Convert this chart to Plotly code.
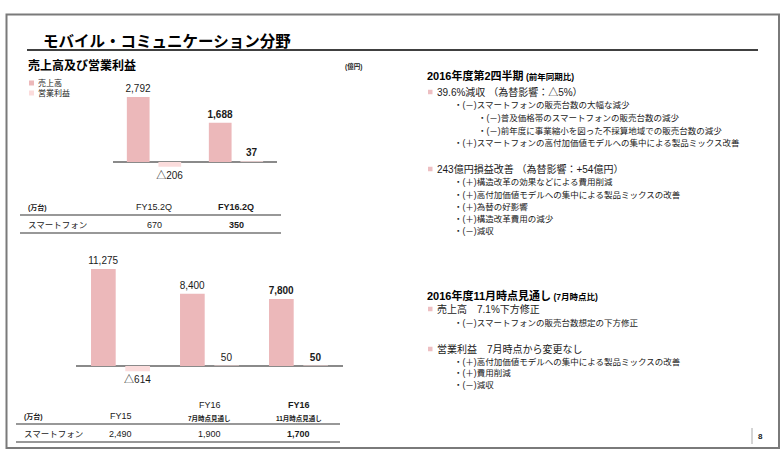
import plotly.graph_objects as go

W, H = 783, 458

# ---------------- data ----------------
q_periods = ["FY15.2Q", "FY16.2Q"]
q_sales = [2792, 1688]
q_op = [-206, 37]
q_phones = [670, 350]
q_bold = [False, True]

y_periods = ["FY15", "FY16 7月", "FY16 11月"]
y_period_main = ["FY15", "FY16", "FY16"]
y_period_sub = ["", "7月時点見通し", "11月時点見通し"]
y_sales = [11275, 8400, 7800]
y_op = [-614, 50, 50]
y_phones = [2490, 1900, 1700]
y_bold = [False, False, True]

SALES_C = "#ECB8BA"
OP_C = "#FBDCDC"
TXT = "#1a1a1a"
FONT = "Liberation Sans, Arial, Noto Sans CJK JP, sans-serif"


def px(x):
    return x / W


def py(y):
    return 1 - y / H


def fmt(v, bold):
    s = f"△{abs(v):,}" if v < 0 else f"{v:,}"
    return f"<b>{s}</b>" if bold else s


fig = go.Figure()

# chart 1 (quarter)
fig.add_trace(go.Bar(x=q_periods, y=q_sales, marker_color=SALES_C, marker_line_width=0,
                     text=[fmt(v, b) for v, b in zip(q_sales, q_bold)], textposition="outside",
                     textfont=dict(size=10, color=TXT, family=FONT), cliponaxis=False,
                     constraintext="none", xaxis="x", yaxis="y", showlegend=False, hoverinfo="skip"))
fig.add_trace(go.Bar(x=q_periods, y=q_op, marker_color=OP_C, marker_line_width=0,
                     text=[fmt(v, b) for v, b in zip(q_op, q_bold)], textposition="outside",
                     textfont=dict(size=10, color=TXT, family=FONT), cliponaxis=False,
                     constraintext="none", xaxis="x", yaxis="y", showlegend=False, hoverinfo="skip"))
# chart 2 (full year)
fig.add_trace(go.Bar(x=y_periods, y=y_sales, marker_color=SALES_C, marker_line_width=0,
                     text=[fmt(v, b) for v, b in zip(y_sales, y_bold)], textposition="outside",
                     textfont=dict(size=10, color=TXT, family=FONT), cliponaxis=False,
                     constraintext="none", xaxis="x2", yaxis="y2", showlegend=False, hoverinfo="skip"))
fig.add_trace(go.Bar(x=y_periods, y=y_op, marker_color=OP_C, marker_line_width=0,
                     text=[fmt(v, b) for v, b in zip(y_op, y_bold)], textposition="outside",
                     textfont=dict(size=10, color=TXT, family=FONT), cliponaxis=False,
                     constraintext="none", xaxis="x2", yaxis="y2", showlegend=False, hoverinfo="skip"))

ax_common = dict(showgrid=False, showticklabels=False, ticks="", showline=False, fixedrange=True)

fig.update_layout(
    width=W, height=H,
    margin=dict(l=0, r=0, t=0, b=0),
    paper_bgcolor="white", plot_bgcolor="rgba(0,0,0,0)",
    font=dict(family=FONT, color=TXT),
    barmode="group", bargap=0.23, bargroupgap=0.28,
    xaxis=dict(domain=[px(113), px(277)], range=[-0.5, 1.5], anchor="y", zeroline=False, **ax_common),
    yaxis=dict(domain=[py(171.3), py(92.2)], range=[-400, 3000], anchor="x",
               zeroline=True, zerolinecolor="#8a8a8a", zerolinewidth=1.2, **ax_common),
    xaxis2=dict(domain=[px(76), px(343)], range=[-0.5, 2.5], anchor="y2", zeroline=False, **ax_common),
    yaxis2=dict(domain=[py(374.6), py(262.8)], range=[-1000, 12000], anchor="x2",
                zeroline=True, zerolinecolor="#8a8a8a", zerolinewidth=1.2, **ax_common),
)

shapes = []
annos = []


def text(x, y, s, size, xanchor="left", bold=False, xref="paper", color=TXT):
    annos.append(dict(x=x if xref != "paper" else px(x), y=py(y), xref=xref, yref="paper",
                      text=f"<b>{s}</b>" if bold else s, showarrow=False,
                      xanchor=xanchor, yanchor="middle",
                      font=dict(size=size, color=color, family=FONT)))


def hline(x0, x1, y, color="#333333", width=1.2):
    shapes.append(dict(type="line", xref="paper", yref="paper", x0=px(x0), x1=px(x1),
                       y0=py(y), y1=py(y), line=dict(color=color, width=width)))


def square(x, y, size, color):
    shapes.append(dict(type="rect", xref="paper", yref="paper",
                       x0=px(x), x1=px(x + size), y0=py(y + size / 2), y1=py(y - size / 2),
                       fillcolor=color, line=dict(width=0)))


# frame
shapes.append(dict(type="rect", xref="paper", yref="paper", x0=px(6.5), x1=px(779), y0=py(448), y1=py(14.5),
                   line=dict(color="#7a7a7a", width=2), fillcolor="rgba(0,0,0,0)"))
# title
text(41, 42, "モバイル・コミュニケーション分野", 15.5, bold=True, color="#000")
hline(27, 758, 50, color="#000", width=1.5)
text(26, 65, "売上高及び営業利益", 12, bold=True, color="#000")
text(353, 67, "(億円)", 6.5, xanchor="center", bold=True)

# legend
square(29, 83, 5, SALES_C)
text(36, 83, "売上高", 8)
square(29, 93, 5, OP_C)
text(36, 93, "営業利益", 8)

# table 1
text(26, 207, "(万台)", 7, bold=True)
for p, b in zip(q_periods, q_bold):
    text(p, 207, p, 9, xanchor="center", bold=b, xref="x")
hline(20, 281, 215)
text(26, 225, "スマートフォン", 8.5)
for p, v, b in zip(q_periods, q_phones, q_bold):
    text(p, 225, f"{v:,}", 9, xanchor="center", bold=b, xref="x")
hline(20, 281, 233)

# table 2
text(22, 416, "(万台)", 7, bold=True)
for p, m, s, b in zip(y_periods, y_period_main, y_period_sub, y_bold):
    if s:
        text(p, 405, m, 9, xanchor="center", bold=b, xref="x2")
        text(p, 418, s, 6.5, xanchor="center", bold=True, xref="x2")
    else:
        text(p, 416, m, 9, xanchor="center", bold=b, xref="x2")
hline(16, 340, 424)
text(22, 434, "スマートフォン", 8.5)
for p, v, b in zip(y_periods, y_phones, y_bold):
    text(p, 434, f"{v:,}", 9, xanchor="center", bold=b, xref="x2")
hline(16, 340, 442)

# right-hand commentary
BUL = "#EDBFC2"
text(425, 76, "2016年度第2四半期<span style='font-size:8.5px'> (前年同期比)</span>", 11, bold=True, color="#000")
square(428, 92, 4.5, BUL)
text(435, 92, "39.6%減収 （為替影響：△5%）", 10)
text(452, 105, "・(－)スマートフォンの販売台数の大幅な減少", 8.5)
text(476, 118, "・(－)普及価格帯のスマートフォンの販売台数の減少", 8.5)
text(476, 131, "・(－)前年度に事業縮小を図った不採算地域での販売台数の減少", 8.5)
text(452, 143, "・(＋)スマートフォンの高付加価値モデルへの集中による製品ミックス改善", 8.5)
square(428, 169, 4.5, BUL)
text(435, 169, "243億円損益改善 （為替影響：+54億円）", 10)
text(452, 182, "・(＋)構造改革の効果などによる費用削減", 8.5)
text(452, 195, "・(＋)高付加価値モデルへの集中による製品ミックスの改善", 8.5)
text(452, 207, "・(＋)為替の好影響", 8.5)
text(452, 219, "・(＋)構造改革費用の減少", 8.5)
text(452, 231, "・(－)減収", 8.5)

text(425, 295, "2016年度11月時点見通し<span style='font-size:8.5px'> (7月時点比)</span>", 11, bold=True, color="#000")
square(428, 309, 4.5, BUL)
text(435, 309, "売上高　7.1%下方修正", 10)
text(452, 323, "・(－)スマートフォンの販売台数想定の下方修正", 8.5)
square(428, 349, 4.5, BUL)
text(435, 349, "営業利益　7月時点から変更なし", 10)
text(452, 362, "・(＋)高付加価値モデルへの集中による製品ミックスの改善", 8.5)
text(452, 373, "・(＋)費用削減", 8.5)
text(452, 385, "・(－)減収", 8.5)

# page number
shapes.append(dict(type="line", xref="paper", yref="paper", x0=px(752), x1=px(752), y0=py(444), y1=py(428),
                   line=dict(color="#aaaaaa", width=1)))
text(760, 436, "8", 8, xanchor="center", bold=True)

fig.update_layout(shapes=shapes, annotations=annos)
fig.write_html(
    "out.html",
    config={"displayModeBar": False, "staticPlot": True},
    post_script="document.body.style.margin='0';document.body.style.overflow='hidden';",
)
